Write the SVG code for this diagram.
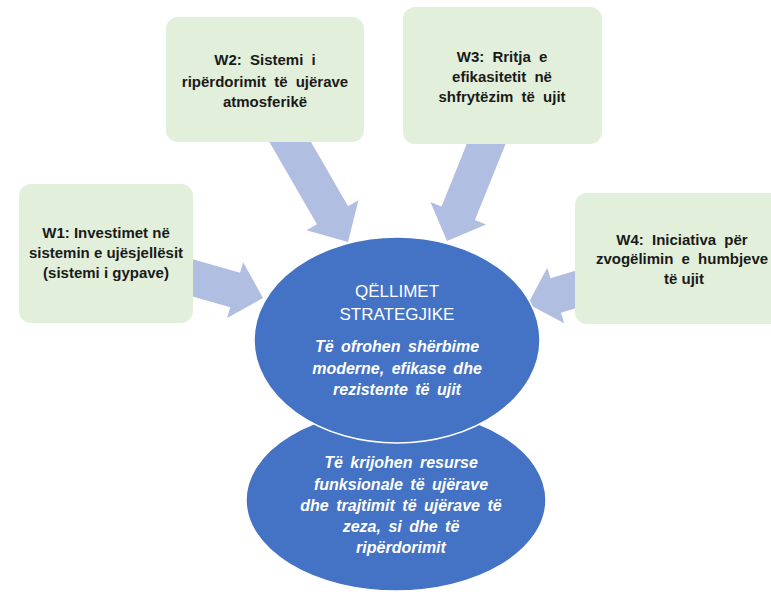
<svg xmlns="http://www.w3.org/2000/svg" width="771" height="592" viewBox="0 0 771 592">
<style>
.box{fill:#E2EFDA;}
.arrow{fill:#B0BEE1;}
.ell{fill:#4472C4;stroke:#FFFFFF;stroke-width:1.5;}
.bt{font-family:"Liberation Sans",Arial,sans-serif;font-size:15px;font-weight:bold;fill:#1a1a1a;text-anchor:middle;}
.ws{word-spacing:4px;}
.ht{font-family:"Liberation Sans",Arial,sans-serif;font-size:17px;fill:#FFFFFF;text-anchor:middle;}
.it{font-family:"Liberation Sans",Arial,sans-serif;font-size:16px;font-weight:bold;font-style:italic;fill:#FFFFFF;text-anchor:middle;word-spacing:3px;}
</style>
<rect width="771" height="592" fill="#FFFFFF"/>
<g id="connectors">
<polygon class="arrow" transform="translate(263,298) rotate(16)" points="-90,-18 -29,-18 -29,-29 0,0 -29,29 -29,18 -90,18"/>
<polygon class="arrow" transform="translate(348,242) rotate(60)" points="-130,-18 -31,-18 -31,-30 0,0 -31,30 -31,18 -130,18"/>
<polygon class="arrow" transform="translate(447,241) rotate(112)" points="-125,-18 -30,-18 -30,-30 0,0 -30,30 -30,18 -125,18"/>
<polygon class="arrow" transform="translate(528,304) rotate(163)" points="-80,-18 -29,-18 -29,-29 0,0 -29,29 -29,18 -80,18"/>
</g>
<g id="W1">
<rect class="box" x="19" y="184" width="174" height="139" rx="12"/>
<text class="bt" x="106" y="238">W1: Investimet në</text>
<text class="bt" x="106" y="258">sistemin e ujësjellësit</text>
<text class="bt" x="106" y="278">(sistemi i gypave)</text>
</g>
<g id="W2">
<rect class="box" x="166" y="17" width="198" height="125" rx="12"/>
<text class="bt ws" x="265" y="65">W2: Sistemi i</text>
<text class="bt ws" x="265" y="87">ripërdorimit të ujërave</text>
<text class="bt" x="265" y="107">atmosferikë</text>
</g>
<g id="W3">
<rect class="box" x="403" y="7" width="199" height="137" rx="12"/>
<text class="bt ws" x="502" y="62">W3: Rritja e</text>
<text class="bt ws" x="502" y="82">efikasitetit në</text>
<text class="bt ws" x="502" y="102">shfrytëzim të ujit</text>
</g>
<g id="W4">
<rect class="box" x="575" y="193" width="220" height="131" rx="12"/>
<text class="bt ws" x="682" y="245">W4: Iniciativa për</text>
<text class="bt ws" x="682" y="264">zvogëlimin e humbjeve</text>
<text class="bt" x="684" y="284">të ujit</text>
</g>
<g id="goal2">
<ellipse class="ell" cx="396" cy="500" rx="150" ry="91"/>
<text class="it" x="401" y="468">Të krijohen resurse</text>
<text class="it" x="401" y="490">funksionale të ujërave</text>
<text class="it" x="401" y="511">dhe trajtimit të ujërave të</text>
<text class="it" x="401" y="532">zeza, si dhe të</text>
<text class="it" x="401" y="553">ripërdorimit</text>
</g>
<g id="goal1">
<ellipse class="ell" cx="397" cy="340" rx="143" ry="103"/>
<text class="ht" x="397" y="297">QËLLIMET</text>
<text class="ht" x="397" y="320">STRATEGJIKE</text>
<text class="it" x="397" y="352">Të ofrohen shërbime</text>
<text class="it" x="397" y="374">moderne, efikase dhe</text>
<text class="it" x="397" y="395">rezistente të ujit</text>
</g>
</svg>
